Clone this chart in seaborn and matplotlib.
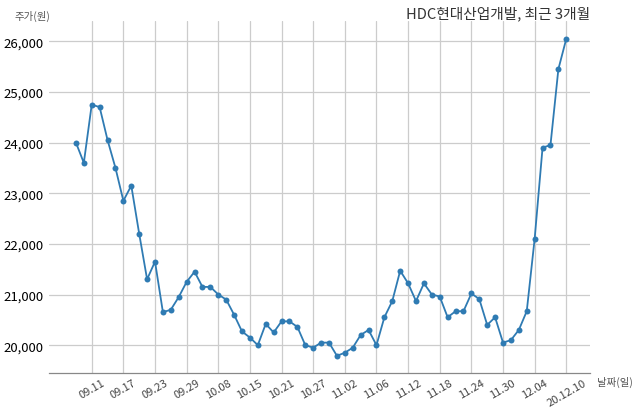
import pandas as pd
import seaborn as sns
import matplotlib.pyplot as plt

# trading days, 2020-09-09 .. 2020-12-10
dates = ['09.09', '09.10', '09.11', '09.14', '09.15', '09.16', '09.17', '09.18',
         '09.21', '09.22', '09.23', '09.24', '09.25', '09.28', '09.29', '10.05',
         '10.06', '10.07', '10.08', '10.12', '10.13', '10.14', '10.15', '10.16',
         '10.19', '10.20', '10.21', '10.22', '10.23', '10.26', '10.27', '10.28',
         '10.29', '10.30', '11.02', '11.03', '11.04', '11.05', '11.06', '11.09',
         '11.10', '11.11', '11.12', '11.13', '11.16', '11.17', '11.18', '11.19',
         '11.20', '11.23', '11.24', '11.25', '11.26', '11.27', '11.30', '12.01',
         '12.02', '12.03', '12.04', '12.07', '12.08', '12.09', '20.12.10']

prices = [24000, 23600, 24750, 24700, 24050, 23500, 22850, 23150,
          22200, 21300, 21650, 20650, 20700, 20950, 21250, 21450,
          21150, 21150, 21000, 20900, 20600, 20270, 20150, 20000,
          20420, 20250, 20470, 20470, 20360, 20000, 19950, 20050,
          20050, 19790, 19850, 19950, 20200, 20300, 20000, 20550,
          20870, 21470, 21220, 20870, 21220, 21000, 20960, 20550,
          20670, 20670, 21020, 20910, 20400, 20550, 20050, 20100,
          20300, 20670, 22100, 23900, 23950, 25450, 26050]

yticks = [20000, 21000, 22000, 23000, 24000, 25000, 26000]

df = pd.DataFrame({'idx': range(len(prices)), 'price': prices})

sns.set_style('whitegrid')
plt.rcParams['font.family'] = ['Noto Sans CJK KR', 'DejaVu Sans']

fig = plt.figure(figsize=(6.4, 4.14), dpi=100)
ax = fig.add_axes([0.0766, 0.0966, 0.8453, 0.8502])

sns.lineplot(data=df, x='idx', y='price', ax=ax, color='#2f7bb3', linewidth=1.3,
             marker='o', markersize=4.3, markeredgewidth=0)

tick_pos = list(range(2, len(dates), 4))
ax.set_xticks(tick_pos)
ax.set_xticklabels([dates[i] for i in tick_pos], rotation=30, fontsize=8, color='#444444')
ax.set_yticks(yticks)
ax.set_yticklabels([f'{v:,}' for v in yticks], fontsize=9.5, color='black')
ax.tick_params(axis='both', length=0)
ax.tick_params(axis='y', pad=4)
ax.tick_params(axis='x', pad=3)

ax.set_xlim(-3.4, 65)
ax.set_ylim(19450, 26400)

ax.grid(True, color='#cccccc', linewidth=0.9)
for side in ['left', 'right', 'top']:
    ax.spines[side].set_visible(False)
ax.spines['bottom'].set_color('#888888')
ax.spines['bottom'].set_linewidth(0.9)

ax.set_xlabel('')
ax.set_ylabel('')
ax.set_title('HDC현대산업개발, 최근 3개월', loc='right', fontsize=10.6, color='#333333', pad=3)
ax.text(0.002, 1.017, '주가(원)', transform=ax.transAxes, ha='right', va='center',
        fontsize=7.5, color='#555555')
ax.text(1.012, -0.023, '날짜(일)', transform=ax.transAxes, ha='left', va='center',
        fontsize=7.5, color='#555555')

fig.savefig('out.png', dpi=100)
